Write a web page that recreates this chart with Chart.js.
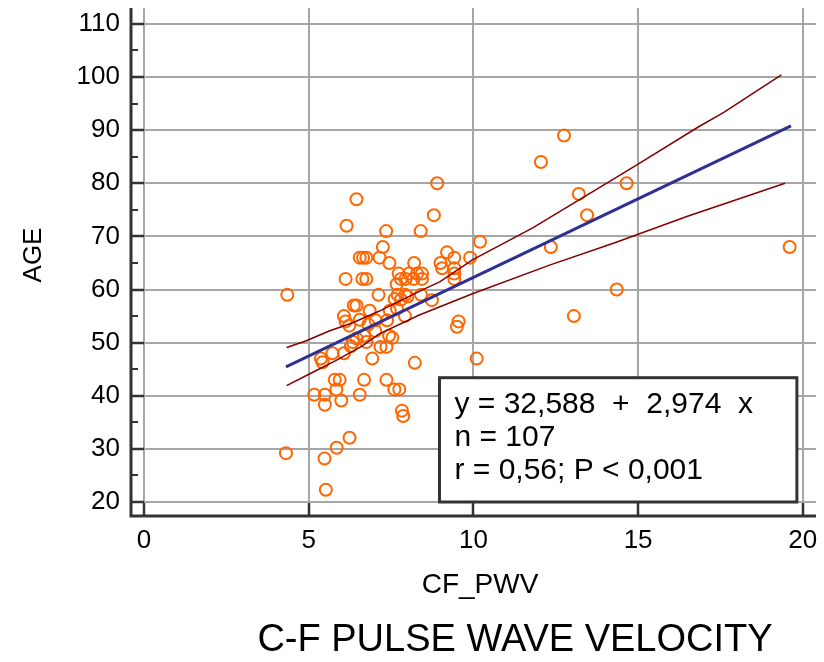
<!DOCTYPE html>
<html>
<head>
<meta charset="utf-8">
<script src="https://cdn.jsdelivr.net/npm/chart.js@4.4.1/dist/chart.umd.min.js"></script>
<style>
  html, body { margin: 0; padding: 0; background: #fff; }
  #wrap { position: relative; width: 824px; height: 662px; }
  #title {
    position: absolute; left: 215px; width: 600px; top: 617px;
    text-align: center; line-height: 46px; color: #000;
    font: 38px "Liberation Sans", Arial, sans-serif;
  }
</style>
</head>
<body>
<div id="wrap">
  <canvas id="chart"></canvas>
  <div id="title">C-F PULSE WAVE VELOCITY</div>
</div>
<script>
// measured points (CF_PWV, AGE)
var pwv = [12.75, 12.05, 8.9, 14.65, 13.2, 6.45, 8.8, 13.45, 6.15, 7.35,
           8.4, 10.2, 7.25, 12.35, 19.6, 9.2, 6.55, 6.65, 6.75, 7.15,
           9.42, 9.9, 7.45, 8.2, 9.0, 9.05, 9.42, 7.73, 8.04, 8.29,
           8.44, 9.42, 6.12, 6.63, 6.75, 7.8, 7.94, 8.18, 8.44, 9.42,
           7.67, 4.35, 7.12, 7.7, 7.93, 8.41, 7.61, 7.8, 8.0, 8.74,
           6.37, 6.45, 6.85, 7.46, 7.68, 6.07, 7.92, 6.12, 6.55, 7.03,
           7.38, 9.55, 6.23, 9.5, 6.81, 7.02, 7.54, 6.68, 6.45, 6.34,
           6.75, 7.44, 6.28, 7.18, 7.36, 5.72, 6.07, 5.37, 6.93, 10.1,
           5.42, 8.22, 5.79, 5.94, 6.68, 7.36, 5.84, 7.6, 7.75, 5.17,
           5.49, 6.55, 5.99, 5.49, 7.83, 7.87, 6.24, 5.85, 4.31, 5.48,
           5.52, 14.35, 13.05];
var age = [89, 84, 80, 80, 78, 77, 74, 74, 72, 71,
           71, 69, 68, 68, 68, 67, 66, 66, 66, 66,
           66, 66, 65, 65, 65, 64, 64, 63, 63, 63,
           63, 63, 62, 62, 62, 62, 62, 62, 62, 62,
           61, 59, 59, 59, 59, 59, 58.2, 58.1, 58.7, 58,
           57, 57, 56, 56, 56.4, 55, 55, 54, 54.3, 54.2,
           54.2, 54, 53.2, 53, 53.4, 52.2, 50.9, 51.3, 50.8, 50.1,
           50.1, 51.3, 49.3, 49.2, 49.2, 48, 48, 47, 47, 47,
           46.3, 46.2, 43, 43, 43, 43, 41.2, 41.2, 41.2, 40.2,
           40.2, 40.2, 39.1, 38.3, 37.2, 36.2, 32.1, 30.2, 29.2, 28.2,
           22.3, 60, 55];

// regression line and confidence band
var fitX = [4.31, 19.64];
var fitY = [45.45, 90.8];
var upperX = [4.33, 4.91, 5.62, 6.32, 7.13, 8.34, 8.99, 9.97, 11.8, 14.15, 15.0, 16.8, 17.6, 19.35];
var upperY = [49.1, 50.3, 52.2, 53.7, 55.9, 59.6, 61.5, 65.6, 71.6, 80.4, 83.6, 90.5, 93.35, 100.4];
var lowerX = [4.33, 5.02, 5.82, 6.63, 7.13, 8.34, 9.97, 12.31, 14.25, 16.5, 19.46];
var lowerY = [41.9, 44.1, 46.6, 49.4, 51.6, 55.15, 59.2, 64.6, 68.7, 73.8, 80.0];

var xTicks = [0, 5, 10, 15, 20];
var yTicks = [20, 30, 40, 50, 60, 70, 80, 90, 100, 110];
var yMinor = [25, 35, 45, 55, 65, 75, 85, 95, 105];

var statsLines = ['y = 32,588  +  2,974  x', 'n = 107', 'r = 0,56; P < 0,001'];

function pairs(xs, ys) {
    return xs.map(function (v, i) { return { x: v, y: ys[i] }; });
}

Chart.defaults.font.family = '"Liberation Sans", Arial, sans-serif';
Chart.defaults.color = '#000';

// axis lines offset from the plot, minor ticks and the stats box
var frame = {
    id: 'frame',
    afterDraw: function (chart) {
        var ctx = chart.ctx;
        var xs = chart.scales.x, ys = chart.scales.y, area = chart.chartArea;
        var axisX = area.left - ys.options.grid.tickLength;
        var axisY = area.bottom + xs.options.grid.tickLength;
        ctx.save();
        ctx.strokeStyle = '#333';
        ctx.lineWidth = 3;
        ctx.beginPath();
        ctx.moveTo(axisX, area.top);
        ctx.lineTo(axisX, axisY);
        ctx.lineTo(area.right, axisY);
        ctx.stroke();

        ctx.lineWidth = 2;
        ctx.beginPath();
        yMinor.forEach(function (v) {
            var py = Math.round(ys.getPixelForValue(v));
            ctx.moveTo(axisX, py);
            ctx.lineTo(axisX + 7, py);
        });
        ctx.stroke();

        // stats box
        var bx1 = xs.getPixelForValue(8.97), bx2 = xs.getPixelForValue(19.82);
        var by1 = ys.getPixelForValue(43.4), by2 = ys.getPixelForValue(20);
        ctx.fillStyle = '#fff';
        ctx.fillRect(bx1, by1, bx2 - bx1, by2 - by1);
        ctx.lineWidth = 3;
        ctx.strokeStyle = '#333';
        ctx.strokeRect(bx1, by1, bx2 - bx1, by2 - by1);
        ctx.fillStyle = '#000';
        ctx.font = '30px "Liberation Sans", Arial, sans-serif';
        ctx.textBaseline = 'middle';
        ctx.textAlign = 'left';
        statsLines.forEach(function (t, i) {
            ctx.fillText(t, bx1 + 15, by1 + 27 + i * 33);
        });
        ctx.restore();
    }
};

var ctx = document.getElementById('chart').getContext('2d');
var chart = new Chart(ctx, {
    type: 'scatter',
    data: {
        datasets: [{
            label: 'fit',
            data: pairs(fitX, fitY),
            showLine: true,
            borderColor: '#2e3192',
            borderWidth: 3,
            pointRadius: 0
        }, {
            label: 'upper',
            data: pairs(upperX, upperY),
            showLine: true,
            borderColor: '#800000',
            borderWidth: 1.5,
            pointRadius: 0
        }, {
            label: 'lower',
            data: pairs(lowerX, lowerY),
            showLine: true,
            borderColor: '#800000',
            borderWidth: 1.5,
            pointRadius: 0
        }, {
            label: 'AGE',
            data: pairs(pwv, age),
            pointRadius: 6,
            pointBorderWidth: 2,
            pointBorderColor: '#ff6600',
            pointBackgroundColor: 'rgba(0,0,0,0)'
        }]
    },
    options: {
        responsive: true,
        maintainAspectRatio: false,
        animation: false,
        layout: { padding: { top: 5, right: 6, left: 0, bottom: 0 } },
        plugins: {
            legend: { display: false },
            tooltip: { enabled: false }
        },
        scales: {
            x: {
                type: 'linear',
                min: 0,
                max: 20.4,
                afterFit: function (s) { s.height = 160; s.paddingLeft = 0; s.paddingRight = 0; },
                afterBuildTicks: function (s) { s.ticks = xTicks.map(function (v) { return { value: v }; }); },
                ticks: { font: { size: 26 }, padding: 9, color: '#000', maxRotation: 0 },
                grid: { color: '#a6a6a6', lineWidth: 2, tickLength: 14, tickColor: '#333', tickWidth: 2.5 },
                border: { display: false },
                title: { display: true, text: 'CF_PWV', font: { size: 28 }, color: '#000', padding: { top: 0, bottom: 60 } }
            },
            y: {
                type: 'linear',
                min: 20,
                max: 113,
                afterFit: function (s) { s.width = 144; s.paddingTop = 0; s.paddingBottom = 0; },
                afterBuildTicks: function (s) { s.ticks = yTicks.map(function (v) { return { value: v }; }); },
                ticks: { font: { size: 26 }, padding: 11, color: '#000' },
                grid: { color: '#a6a6a6', lineWidth: 2, tickLength: 13, tickColor: '#333', tickWidth: 2.5 },
                border: { display: false },
                title: { display: true, text: 'AGE', font: { size: 26 }, color: '#000', padding: { top: 18, bottom: 0 } }
            }
        }
    },
    plugins: [frame]
});
</script>
</body>
</html>
